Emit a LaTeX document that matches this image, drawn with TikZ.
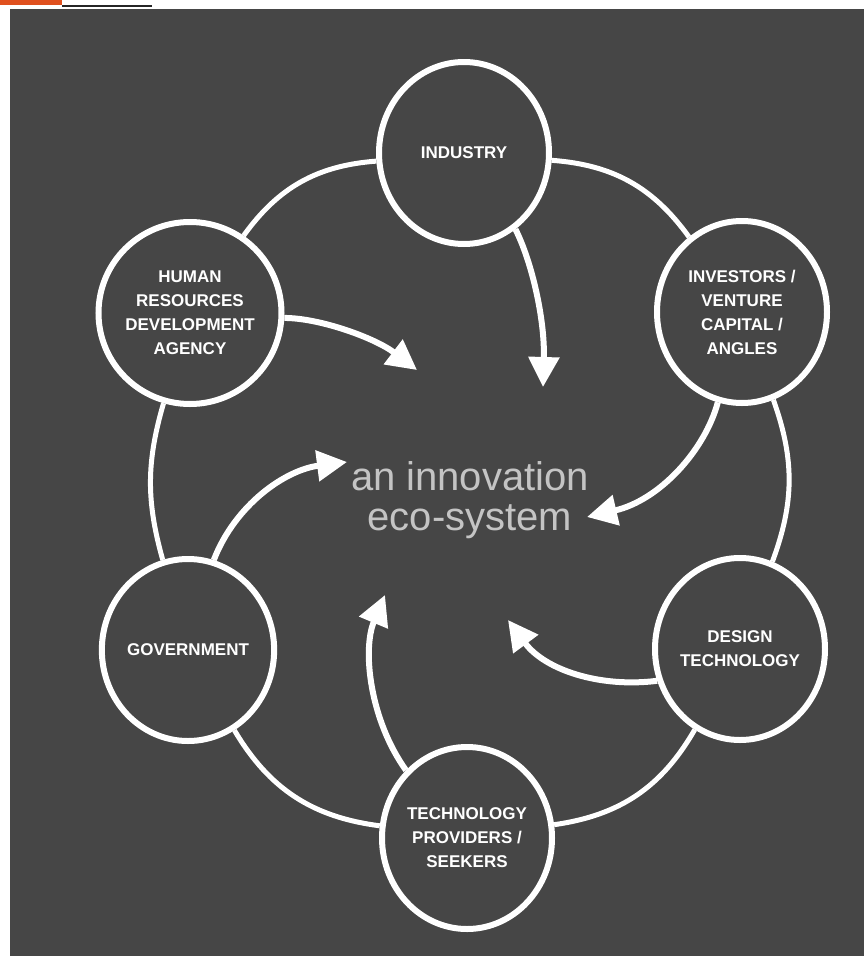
\documentclass[tikz,border=0pt]{standalone}
\usepackage{fontspec}
\setmainfont{Liberation Sans}
\usetikzlibrary{shapes.geometric,arrows.meta}
\definecolor{bg}{HTML}{464646}
\definecolor{accent}{HTML}{E0501E}
\definecolor{centretext}{HTML}{C4C4C4}
\begin{document}
\begin{tikzpicture}[x=1pt,y=-1pt,
  hub/.style={ellipse, draw=white, line width=6pt, fill=bg, minimum width=170pt,
    minimum height=182pt, inner sep=0pt, text=white, align=center,
    font=\bfseries\fontsize{17}{24}\selectfont},
  ringline/.style={draw=white, line width=5pt},
  flow/.style={draw=white, line width=6pt, -{Triangle[length=30pt,width=30pt]}}
]
\useasboundingbox (0,0) rectangle (864,956);
\fill[white] (0,0) rectangle (864,956);
\fill[bg] (10,9) rectangle (864,956);
\fill[accent] (0,0) rectangle (62,5);
\fill[black!85] (62,4.5) rectangle (152,6.5);

% hubs
\node[hub] (ind) at (464,153) {INDUSTRY};
\node[hub] (inv) at (742,312) {INVESTORS /\\VENTURE\\CAPITAL /\\ANGLES};
\node[hub] (des) at (740,649) {DESIGN\\TECHNOLOGY};
\node[hub] (tec) at (467,838) {TECHNOLOGY\\PROVIDERS /\\SEEKERS};
\node[hub] (gov) at (188,650) {GOVERNMENT};
\node[hub] (hum) at (190,313) {HUMAN\\RESOURCES\\DEVELOPMENT\\AGENCY};

% ring
\draw[ringline] (ind) to[bend left=25] (inv);
\draw[ringline] (inv) to[bend left=20] (des);
\draw[ringline] (des) to[bend left=26] (tec);
\draw[ringline] (tec) to[bend left=26] (gov);
\draw[ringline] (gov) to[bend left=16] (hum);
\draw[ringline] (hum) to[bend left=25] (ind);

% centre
\node[text=centretext, align=center, inner sep=0pt,
  font=\fontsize{40}{40}\selectfont] (eco) at (470,500) {an innovation\\eco-system};

% arrow tips
\coordinate (t1) at (543,387);
\coordinate (t2) at (417,370);
\coordinate (t3) at (587,517);
\coordinate (t4) at (347,462);
\coordinate (t5) at (508,620);
\coordinate (t6) at (385,595);

\draw[flow] (ind.-56) .. controls (532,262) and (545,320) .. (t1);
\draw[flow] (hum.-3) .. controls (320,318) and (375,338) .. (t2);
\draw[flow] (inv.-105) .. controls (705,450) and (660,500) .. (t3);
\draw[flow] (gov.74) .. controls (235,505) and (285,470) .. (t4);
\draw[flow] (des.-159) .. controls (600,688) and (545,670) .. (t5);
\draw[flow] (tec.132) .. controls (370,720) and (362,650) .. (t6);
\end{tikzpicture}
\end{document}
